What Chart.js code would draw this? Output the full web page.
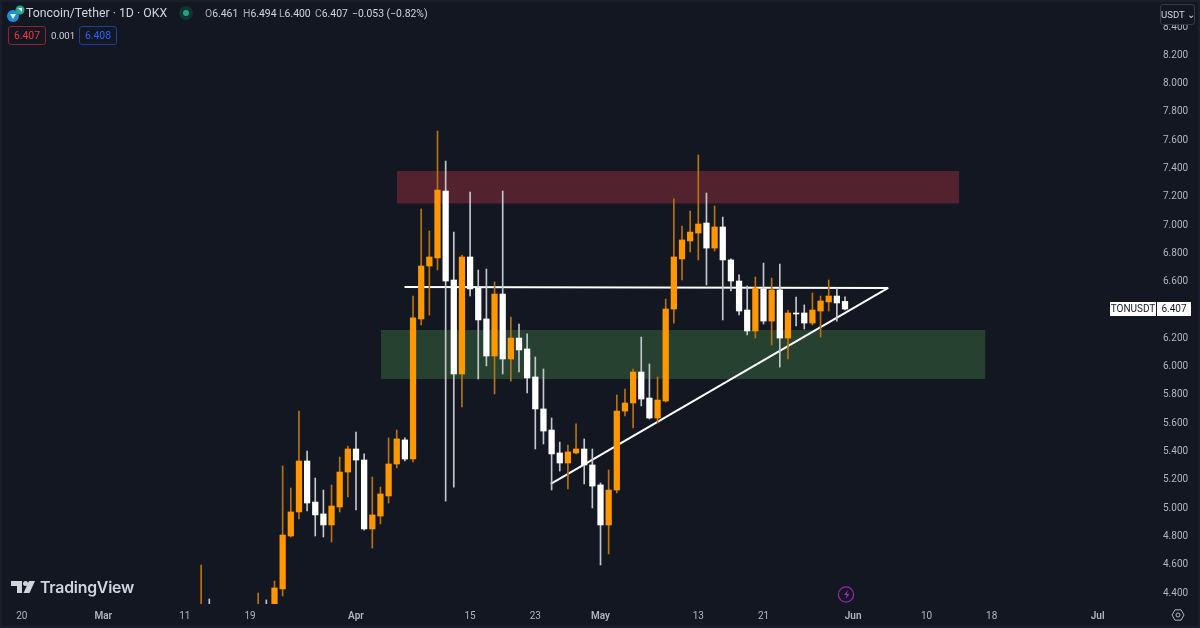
<!DOCTYPE html>
<html>
<head>
<meta charset="utf-8">
<title>Toncoin/Tether 1D</title>
<script src="https://cdn.jsdelivr.net/npm/chart.js@4"></script>
<style>
html, body { margin: 0; padding: 0; background: #131722; }
#wrap { position: relative; width: 1200px; height: 628px; overflow: hidden; font-family: Roboto, sans-serif; }
#wrap canvas { position: absolute; left: 0; top: 0; }
.abs { position: absolute; white-space: nowrap; }
.title { left: 26px; top: 5px; font-size: 12.3px; line-height: 16px; color: #d1d4dc; }
.ohlc { top: 7px; font-size: 10.4px; line-height: 13px; color: #d1d4dc; }
.ohlc i { font-style: normal; color: #a8abb5; }
.box { top: 26px; width: 36px; height: 17px; line-height: 17px; border-radius: 3px; text-align: center; font-size: 10.4px; border: 1px solid; }
.usdt { left: 1160px; top: 4px; width: 33px; height: 19px; line-height: 19px; border: 1px solid #363a45; border-radius: 3px; background: #131722; color: #d1d4dc; font-size: 9.6px; text-align: center; }
.logo { left: 40px; top: 578px; font-family: Inter, sans-serif; font-weight: 600; font-size: 15.8px; line-height: 20px; color: #d1d4dc; letter-spacing: -0.2px; }
#edge { position: absolute; inset: 0; border: 2px solid #1b1f2b; box-sizing: border-box; pointer-events: none; }
svg { position: absolute; left: 0; top: 0; pointer-events: none; }
</style>
</head>
<body>
<div id="wrap">
    <canvas id="tonChart" width="1200" height="628"></canvas>
    <svg width="1200" height="628">
        <!-- 코인 아이콘 -->
        <circle cx="13" cy="16" r="6" fill="#1d8fd6"/>
        <path d="M10 14h6l-3 5z" fill="#e8f4fb"/>
        <circle cx="20" cy="10" r="4.5" fill="#2aa58c"/>
        <path d="M18 8h4v4z" fill="#e8f4fb"/>
        <!-- 상태 표시 -->
        <circle cx="186" cy="13" r="7" fill="#12342f"/>
        <circle cx="186" cy="13" r="3" fill="#1fa58a"/>
        <!-- TradingView 로고 -->
        <path d="M11 581h11v12h-5v-7h-6z" fill="#d1d4dc"/>
        <circle cx="25.5" cy="583.5" r="2.5" fill="#d1d4dc"/>
        <path d="M29 581h6l-5.5 12h-6z" fill="#d1d4dc"/>
        <!-- 이벤트 아이콘 -->
        <circle cx="846" cy="594.5" r="7.6" fill="none" stroke="#9c27b0" stroke-width="1.2"/>
        <path d="M848 590l-4 5h2.6l-1 4 4-5h-2.6z" fill="#9c27b0"/>
        <!-- 설정 아이콘 -->
        <path d="M1172 615l3-5.2h6l3 5.2-3 5.2h-6z" fill="none" stroke="#b2b5be" stroke-width="1"/>
        <circle cx="1178" cy="615" r="2" fill="none" stroke="#b2b5be" stroke-width="1"/>
    </svg>
    <div class="abs title">Toncoin/Tether · 1D · OKX</div>
    <div class="abs ohlc" style="left:205px"><i>O</i>6.461</div>
    <div class="abs ohlc" style="left:243px"><i>H</i>6.494</div>
    <div class="abs ohlc" style="left:279px"><i>L</i>6.400</div>
    <div class="abs ohlc" style="left:315px"><i>C</i>6.407</div>
    <div class="abs ohlc" style="left:352px">−0.053 (−0.82%)</div>
    <div class="abs box" style="left:8px;color:#f23645;border-color:#8e2533">6.407</div>
    <div class="abs ohlc" style="left:51px;top:29px;font-size:9.6px">0.001</div>
    <div class="abs box" style="left:79px;color:#2962ff;border-color:#1c3f9e">6.408</div>
    <div class="abs usdt">USDT ⌄</div>
    <div class="abs logo">TradingView</div>
    <div id="edge"></div>
</div>
<script>
// 4월 1일 기준 일수 (가격 범위 밖으로 잘린 날은 제외)
const days = [-19,-18,-12,-11,-10,-9,-8,-7,-6,-5,-4,-3,-2,-1,
    0,1,2,3,4,5,6,7,8,9,10,11,12,13,14,15,16,17,18,19,20,21,22,23,24,25,26,27,28,29,
    30,31,32,33,34,35,36,37,38,39,40,41,42,43,44,45,46,47,48,49,50,51,52,53,54,55,56,57,58,59,60];

const opens = [4.25,4.31,4.20,4.30,4.31,4.429,4.803,4.973,5.333,5.043,4.959,4.881,5.008,5.255,
    5.418,5.340,4.853,4.944,5.086,5.312,5.482,5.347,6.337,6.711,6.768,7.241,6.612,5.948,6.775,6.556,
    6.337,6.075,6.513,6.054,6.202,6.125,5.927,5.701,5.552,5.390,5.319,5.390,5.418,5.305,
    5.164,4.881,5.128,5.686,5.743,5.962,5.778,5.637,5.757,6.407,6.761,6.888,6.944,7.015,6.838,6.987,
    6.754,6.605,6.400,6.252,6.549,6.322,6.542,6.202,6.379,6.379,6.308,6.393,6.457,6.499,6.461];

const highs = [4.598,4.358,4.400,4.351,4.485,5.298,5.142,5.686,5.404,5.213,5.128,5.164,5.361,5.439,
    5.538,5.383,5.220,5.149,5.496,5.552,5.496,6.499,7.114,6.959,7.665,7.453,6.951,6.789,7.234,6.683,
    6.690,6.598,7.241,6.351,6.301,6.231,6.068,5.983,5.637,5.467,5.446,5.595,5.489,5.418,
    5.178,5.270,5.800,5.842,5.983,6.209,6.019,5.927,6.478,7.185,6.994,7.100,7.496,7.227,7.135,7.057,
    6.761,6.648,6.570,6.633,6.732,6.626,6.725,6.400,6.492,6.436,6.520,6.499,6.612,6.556,6.494];

const lows = [4.20,4.25,4.18,4.24,4.28,4.379,4.796,4.923,4.980,4.803,4.796,4.761,4.973,5.079,
    4.987,4.845,4.718,4.888,5.036,5.284,5.333,5.326,6.294,6.365,6.683,5.050,5.149,5.715,6.499,5.913,
    6.005,5.807,5.948,5.898,5.962,5.814,5.418,5.453,5.128,5.262,5.135,5.383,5.171,5.001,
    4.598,4.676,5.107,5.651,5.566,5.722,5.630,5.602,5.750,6.308,6.612,6.810,6.754,6.577,6.817,6.330,
    6.535,6.365,6.224,6.202,6.301,6.153,5.997,6.054,6.287,6.266,6.294,6.209,6.393,6.322,6.400];

const closes = [4.30,4.27,4.30,4.26,4.436,4.810,4.973,5.333,5.036,4.952,4.881,5.015,5.255,5.418,
    5.340,4.853,4.952,5.100,5.312,5.489,5.347,6.344,6.711,6.775,7.248,6.605,5.948,6.775,6.549,6.330,
    6.075,6.513,6.054,6.202,6.118,5.920,5.701,5.545,5.383,5.319,5.397,5.418,5.305,5.156,
    4.881,5.128,5.686,5.743,5.962,5.771,5.637,5.764,6.407,6.775,6.895,6.951,7.008,6.838,6.987,6.754,
    6.605,6.393,6.252,6.556,6.322,6.542,6.202,6.379,6.372,6.308,6.400,6.464,6.499,6.450,6.407];

const priceTicks = [4.4,4.6,4.8,5.0,5.2,5.4,5.6,5.8,6.0,6.2,6.4,6.6,6.8,7.0,7.2,7.4,7.6,7.8,8.0,8.2,8.4];
const dateTicks = [-41,-31,-21,-13,0,14,22,30,42,50,61,70,78,91];
const dateLabels = ['20','Mar','11','19','Apr','15','23','May','13','21','Jun','10','18','Jul'];
const monthLabels = ['Mar','Apr','May','Jun','Jul'];

// 저항/지지 구간 [시작일, 끝일, 아래 가격, 위 가격]
const redZone = [5.03, 74, 7.153, 7.383];
const greenZone = [3.07, 77.2, 5.912, 6.259];

// 수평선과 상승 추세선
const flatLineDays = [5.95, 65.3];
const flatLinePrices = [6.563, 6.556];
const trendLineDays = [23.9, 65.3];
const trendLinePrices = [5.171, 6.556];

const lastPrice = 6.407;
const symbol = 'TONUSDT';

const upColor = '#ff9800';
const downColor = '#ffffff';
const candleColors = opens.map((o, i) => closes[i] >= o ? upColor : downColor);
const wickColors = opens.map((o, i) => closes[i] >= o ? '#b8720f' : '#c4c6cb');

// 축 여백을 없애서 차트 영역을 캔버스 가장자리까지 채움
function clearPadding(axis) {
    axis.paddingLeft = 0;
    axis.paddingRight = 0;
    axis.paddingTop = 0;
    axis.paddingBottom = 0;
}

const zonesPlugin = {
    id: 'zones',
    beforeDatasetsDraw(chart) {
        const { ctx, scales: { x, y } } = chart;
        const area = chart.chartArea;
        ctx.save();
        ctx.beginPath();
        ctx.rect(area.left, area.top, area.width, area.height);
        ctx.clip();
        [[redZone, '#52222e'], [greenZone, '#264130']].forEach(([z, color]) => {
            ctx.fillStyle = color;
            const left = x.getPixelForValue(z[0]);
            const top = y.getPixelForValue(z[3]);
            ctx.fillRect(left, top, x.getPixelForValue(z[1]) - left, y.getPixelForValue(z[2]) - top);
        });
        ctx.restore();
    }
};

// 오른쪽 현재가 라벨
const priceTagPlugin = {
    id: 'priceTag',
    afterDraw(chart) {
        const { ctx, scales: { y } } = chart;
        const py = Math.round(y.getPixelForValue(lastPrice));
        ctx.save();
        ctx.fillStyle = '#ffffff';
        ctx.fillRect(1110, py - 7, 46, 14);
        ctx.fillRect(1157, py - 7, 34, 14);
        ctx.fillStyle = '#131722';
        ctx.font = '10px Roboto';
        ctx.textBaseline = 'middle';
        ctx.textAlign = 'center';
        ctx.fillText(symbol, 1133, py + 0.5);
        ctx.fillText(lastPrice.toFixed(3), 1174, py + 0.5);
        ctx.restore();
    }
};

new Chart(document.getElementById('tonChart').getContext('2d'), {
    type: 'bar',
    data: {
        datasets: [
            {
                label: 'body',
                order: 1,
                data: days.map((d, i) => ({ x: d, y: [opens[i], closes[i]] })),
                backgroundColor: candleColors,
                barThickness: 5.6,
                grouped: false,
                borderWidth: 0
            },
            {
                label: 'wick',
                order: 2,
                data: days.map((d, i) => ({ x: d, y: [lows[i], highs[i]] })),
                backgroundColor: wickColors,
                barThickness: 1,
                grouped: false,
                borderWidth: 0
            },
            {
                type: 'line',
                label: 'flat',
                order: 3,
                data: flatLineDays.map((d, i) => ({ x: d, y: flatLinePrices[i] })),
                borderColor: '#ffffff',
                borderWidth: 2,
                pointRadius: 0
            },
            {
                type: 'line',
                label: 'trend',
                order: 3,
                data: trendLineDays.map((d, i) => ({ x: d, y: trendLinePrices[i] })),
                borderColor: '#ffffff',
                borderWidth: 2,
                pointRadius: 0
            }
        ]
    },
    options: {
        responsive: false,
        animation: false,
        layout: { padding: 0 },
        plugins: {
            legend: { display: false },
            tooltip: { enabled: false }
        },
        scales: {
            x: {
                type: 'linear',
                offset: false,
                min: -43.68,
                max: 98.28,
                grid: { display: false, drawTicks: false },
                border: { display: false },
                afterBuildTicks: axis => { axis.ticks = dateTicks.map(v => ({ value: v })); },
                afterFit: axis => { axis.height = 24; clearPadding(axis); },
                ticks: {
                    autoSkip: false,
                    maxRotation: 0,
                    padding: 6,
                    color: '#b2b5be',
                    font: ctx => ({
                        family: 'Roboto',
                        size: 10,
                        weight: monthLabels.includes(dateLabels[ctx.index]) ? '600' : '400'
                    }),
                    callback: (value, index) => dateLabels[index]
                }
            },
            y: {
                position: 'right',
                min: 4.3225,
                max: 8.591,
                grid: { display: false, drawTicks: false },
                border: { display: false },
                afterBuildTicks: axis => { axis.ticks = priceTicks.map(v => ({ value: v })); },
                afterFit: axis => { axis.width = 43; clearPadding(axis); },
                ticks: {
                    autoSkip: false,
                    padding: 6,
                    color: '#b2b5be',
                    font: { family: 'Roboto', size: 10 },
                    callback: value => value.toFixed(3)
                }
            }
        }
    },
    plugins: [zonesPlugin, priceTagPlugin]
});
</script>
</body>
</html>
